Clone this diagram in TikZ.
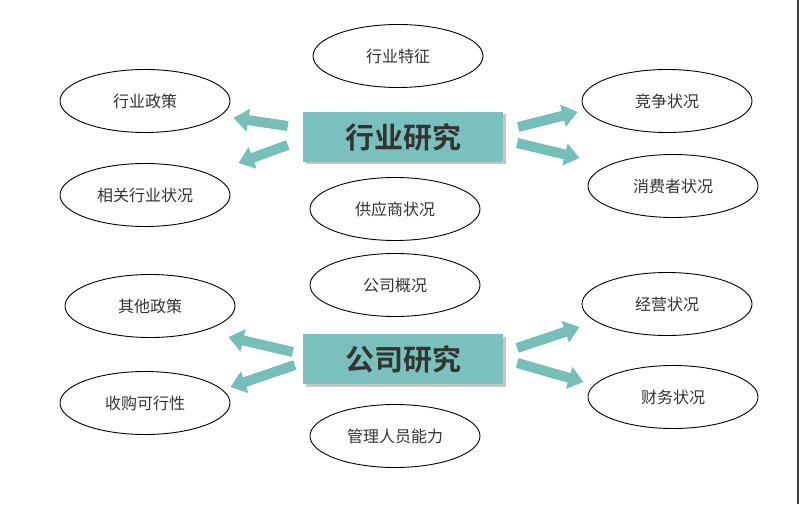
\documentclass[tikz,border=0pt]{standalone}
\usepackage{fontspec}
\newfontfamily\cjk[BoldFont={Noto Sans CJK SC Bold}]{Noto Sans CJK SC}
\usetikzlibrary{arrows.meta,shapes.geometric,shadows}
\definecolor{tealbox}{RGB}{122,193,190}
\definecolor{tealarrow}{RGB}{118,190,186}
\definecolor{textgray}{RGB}{51,51,51}

\begin{document}
\begin{tikzpicture}[x=1pt,y=1pt,
        topic/.style={ellipse,draw,line width=0.9pt,minimum width=170pt,minimum height=63pt,inner sep=0pt,
                font=\cjk\fontsize{16}{19}\selectfont,text=textgray},
        hub/.style={rectangle,fill=tealbox,minimum width=200pt,minimum height=50pt,inner sep=0pt,
                font=\cjk\bfseries\fontsize{29}{34}\selectfont,text=textgray,
                drop shadow={shadow xshift=2.5pt,shadow yshift=-2.5pt,opacity=0.45,fill=black!50}},
        fat/.style={draw=tealarrow,line width=10pt,-{Triangle[length=15pt,width=22pt]}}]

        \useasboundingbox (0,0) rectangle (800,504);
        \draw[black!75,line width=1.2pt] (798,0) -- (798,504);

        \node[hub] (ind) at (403,367) {行业研究};
        \node[hub] (com) at (403,145) {公司研究};

        \node[topic] (fea) at (398,448) {行业特征};
        \node[topic] (pol) at (145,403) {行业政策};
        \node[topic] (rel) at (145,309) {相关行业状况};
        \node[topic] (sup) at (395,295) {供应商状况};
        \node[topic] (cmp) at (667,403) {竞争状况};
        \node[topic] (cns) at (673,318) {消费者状况};

        \node[topic] (ovr) at (395,219) {公司概况};
        \node[topic] (oth) at (150,198) {其他政策};
        \node[topic] (acq) at (145,101) {收购可行性};
        \node[topic] (mgt) at (395,68) {管理人员能力};
        \node[topic] (ope) at (667,200) {经营状况};
        \node[topic] (fin) at (673,107) {财务状况};

        \draw[fat] ([shift={(-15,11)}]ind.west) -- ([shift={(3,-17)}]pol.east);
        \draw[fat] ([shift={(-15,-8)}]ind.west) -- ([shift={(8,32)}]rel.east);
        \draw[fat] ([shift={(15,10)}]ind.east) -- ([shift={(-4,-11)}]cmp.west);
        \draw[fat] ([shift={(14,-6)}]ind.east) -- ([shift={(-8,28)}]cns.west);

        \draw[fat] ([shift={(-10,7)}]com.west) -- ([shift={(-7,-31)}]oth.east);
        \draw[fat] ([shift={(-8,-6)}]com.west) -- ([shift={(0,16)}]acq.east);
        \draw[fat] ([shift={(14,11)}]com.east) -- ([shift={(-2,-23)}]ope.west);
        \draw[fat] ([shift={(14,-4)}]com.east) -- ([shift={(-4,15)}]fin.west);

\end{tikzpicture}
\end{document}
